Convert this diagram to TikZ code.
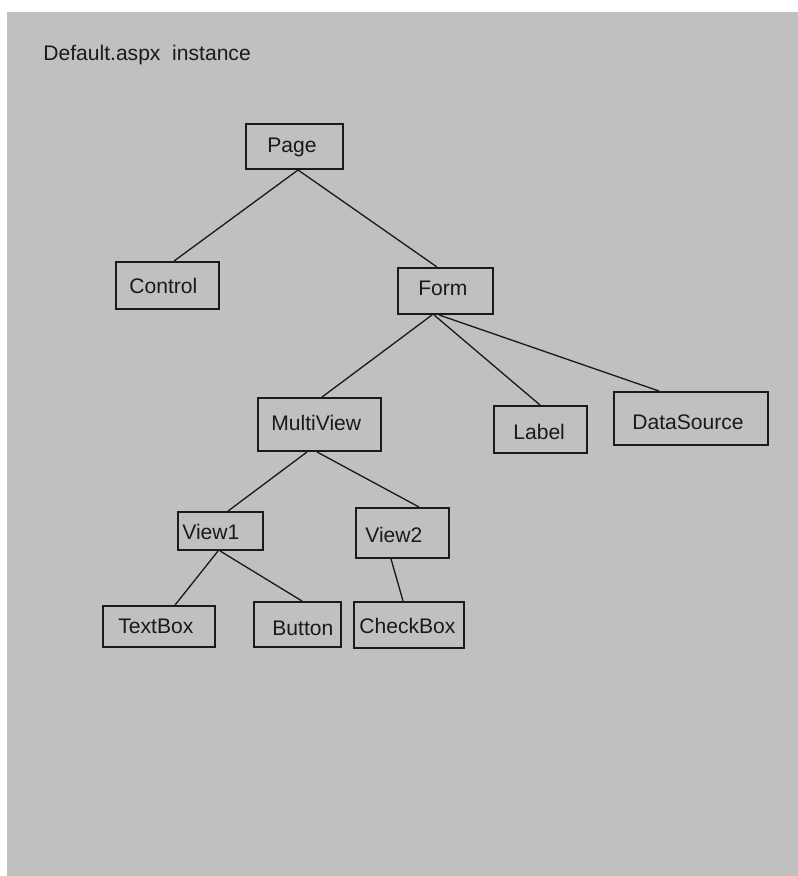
\documentclass[tikz,border=0pt]{standalone}
\usepackage{fontspec}
\setmainfont{Liberation Sans}
\definecolor{canvas}{HTML}{C0C0C0}
\definecolor{ink}{HTML}{1A1A1A}

% \objbox{name}{x1}{y1}{x2}{y2}: rectangle given by its corners (pixel units)
\newcommand{\objbox}[5]{%
  \node[objframe, minimum width={(#4-#2)*0.02cm}, minimum height={(#5-#3)*0.02cm}]
    (#1) at ({(#2+#4)/2},{(#3+#5)/2}) {};}
% \objtext{name}{x}{baseline y}{text}
\newcommand{\objtext}[4]{%
  \node[objlabel] (#1) at (#2,#3) {#4};}
% \treelink{parent}{dx on parent bottom}{child}{dx on child top}
\newcommand{\treelink}[4]{%
  \draw[link] ([shift={(#2,0)}]#1.south west) -- ([shift={(#4,0)}]#3.north west);}

\tikzset{
  objframe/.style={draw=ink, line width=1.1pt, rectangle, inner sep=0pt},
  objlabel/.style={anchor=base west, inner sep=0pt, text=ink,
                   font=\fontsize{12}{14}\selectfont},
  link/.style={draw=ink, line width=0.75pt},
}

\begin{document}
\begin{tikzpicture}[x=0.02cm, y=-0.02cm]
  \useasboundingbox (0,0) rectangle (798,876);
  \fill[white] (0,0) rectangle (798,876);
  \fill[canvas] (7,12) rectangle (798,876);

  \objtext{title}{43}{60}{Default.aspx\ \ instance}

  % boxes
  \objbox{page}{246}{124}{343}{169}
  \objbox{control}{116}{262}{219}{309}
  \objbox{form}{398}{268}{493}{314}
  \objbox{multiview}{258}{398}{381}{451}
  \objbox{label}{494}{406}{587}{453}
  \objbox{datasource}{614}{392}{768}{445}
  \objbox{view1}{178}{512}{263}{550}
  \objbox{view2}{356}{508}{449}{558}
  \objbox{textbox}{103}{606}{215}{647}
  \objbox{button}{254}{602}{341}{647}
  \objbox{checkbox}{354}{602}{464}{648}

  % captions
  \objtext{page-t}{267}{152}{Page}
  \objtext{control-t}{129}{293}{Control}
  \objtext{form-t}{418}{295}{Form}
  \objtext{multiview-t}{271}{430}{MultiView}
  \objtext{label-t}{513}{439}{Label}
  \objtext{datasource-t}{632}{429}{DataSource}
  \objtext{view1-t}{182}{539}{View1}
  \objtext{view2-t}{365}{542}{View2}
  \objtext{textbox-t}{118}{633}{TextBox}
  \objtext{button-t}{272}{635}{Button}
  \objtext{checkbox-t}{359}{633}{CheckBox}

  % parent-child connectors
  \treelink{page}{53}{control}{59}
  \treelink{page}{53}{form}{40}
  \treelink{form}{35}{multiview}{65}
  \treelink{form}{37}{label}{47}
  \treelink{form}{42}{datasource}{46}
  \treelink{multiview}{50}{view1}{51}
  \treelink{multiview}{60}{view2}{64}
  \treelink{view1}{41}{textbox}{73}
  \treelink{view1}{43}{button}{49}
  \treelink{view2}{36}{checkbox}{50}
\end{tikzpicture}
\end{document}
